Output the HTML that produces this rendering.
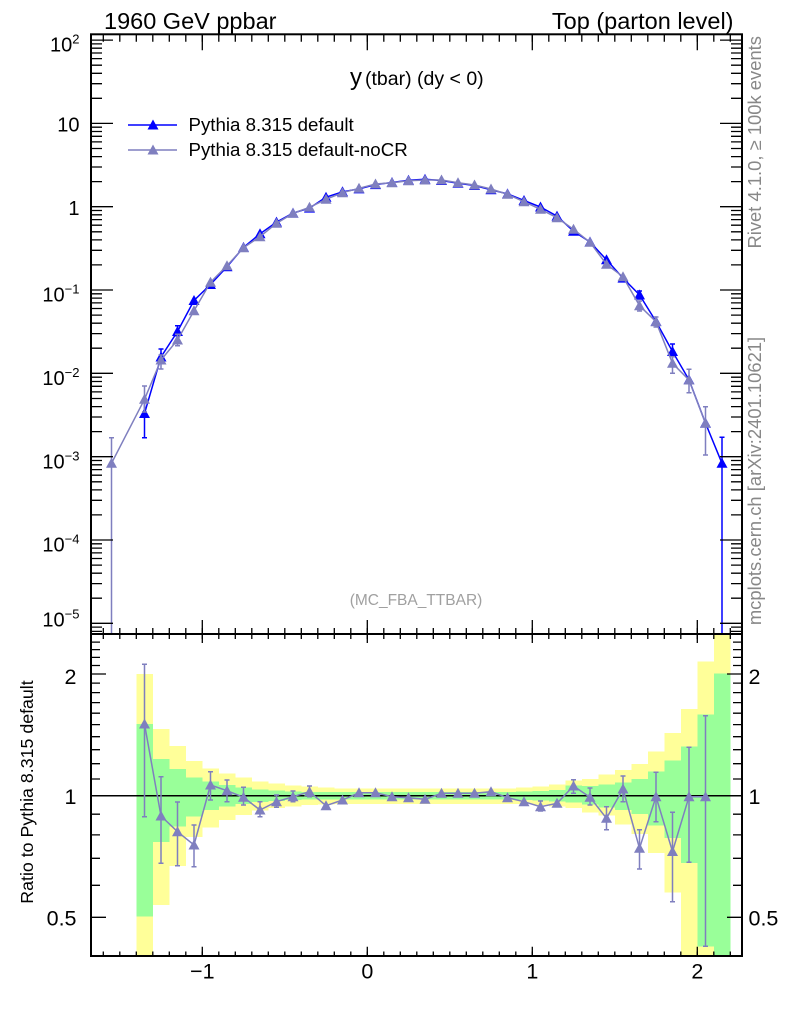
<!DOCTYPE html>
<html><head><meta charset="utf-8"><style>html,body{margin:0;padding:0;background:#fff;}svg{display:block;}</style></head>
<body>
<svg width="786" height="1024" viewBox="0 0 786 1024" font-family="'Liberation Sans', Arial, sans-serif">
<defs>
<path id="t" d="M0,-5.5L5.5,4.5L-5.5,4.5Z"/>
<clipPath id="cm"><rect x="91" y="34.3" width="651" height="599.7"/></clipPath>
<clipPath id="cr"><rect x="91" y="634" width="651" height="322"/></clipPath>
<g id="lmain" stroke="#000" stroke-width="1.3" fill="none">
<path d="M91 40.1h22M91 123.4h22M91 206.7h22M91 290h22M91 373.3h22M91 456.7h22M91 540h22M91 623.3h22"/>
<path d="M91 598.2h11M91 583.6h11M91 573.2h11M91 565.1h11M91 558.5h11M91 552.9h11M91 548.1h11M91 543.8h11M91 514.9h11M91 500.3h11M91 489.9h11M91 481.8h11M91 475.2h11M91 469.6h11M91 464.8h11M91 460.5h11M91 431.6h11M91 417h11M91 406.6h11M91 398.5h11M91 391.9h11M91 386.3h11M91 381.5h11M91 377.2h11M91 348.2h11M91 333.6h11M91 323.2h11M91 315.1h11M91 308.5h11M91 302.9h11M91 298.1h11M91 293.8h11M91 264.9h11M91 250.3h11M91 239.9h11M91 231.8h11M91 225.2h11M91 219.6h11M91 214.8h11M91 210.5h11M91 181.6h11M91 167h11M91 156.6h11M91 148.5h11M91 141.9h11M91 136.3h11M91 131.5h11M91 127.2h11M91 98.3h11M91 83.7h11M91 73.3h11M91 65.2h11M91 58.6h11M91 53h11M91 48.2h11M91 43.9h11M91 631.4h11M91 627.1h11"/>
</g>
<g id="lratio" stroke="#000" stroke-width="1.3" fill="none">
<path d="M91 674h15M91 795.7h15M91 917.3h15"/>
<path d="M91 885.3h9M91 858.3h9M91 834.9h9M91 814.2h9M91 779h9M91 763.7h9M91 749.7h9M91 736.7h9M91 724.6h9M91 713.2h9M91 702.6h9M91 692.6h9M91 683.1h9M91 665.5h9M91 657.4h9M91 649.6h9M91 642.1h9"/>
</g>
</defs>
<rect width="786" height="1024" fill="#fff"/>

<!-- ratio bands -->
<g clip-path="url(#cr)" shape-rendering="crispEdges">
<g fill="#ffff99">
<rect x="136.3" y="674" width="16.7" height="282"/>
<rect x="152.8" y="729" width="16.7" height="176"/>
<rect x="169.3" y="746" width="16.7" height="120"/>
<rect x="185.8" y="761" width="16.7" height="76"/>
<rect x="202.3" y="768.3" width="16.7" height="59.4"/>
<rect x="218.8" y="773.3" width="16.7" height="46.7"/>
<rect x="235.3" y="777.7" width="16.7" height="37.3"/>
<rect x="251.8" y="781.7" width="16.7" height="29"/>
<rect x="268.3" y="783.7" width="16.7" height="24.3"/>
<rect x="284.8" y="785.3" width="16.7" height="21.2"/>
<rect x="301.3" y="786.7" width="16.7" height="18.3"/>
<rect x="317.8" y="787.3" width="16.7" height="17"/>
<rect x="334.3" y="788.3" width="181.7" height="15.7"/>
<rect x="515.8" y="787.5" width="16.7" height="16.5"/>
<rect x="532.3" y="786.5" width="16.7" height="18.5"/>
<rect x="548.8" y="784.5" width="16.7" height="22"/>
<rect x="565.3" y="780.7" width="16.7" height="27.3"/>
<rect x="581.8" y="779" width="16.7" height="33.3"/>
<rect x="598.3" y="774.7" width="16.7" height="41"/>
<rect x="614.8" y="770" width="16.7" height="54.7"/>
<rect x="631.3" y="764" width="16.7" height="70"/>
<rect x="647.8" y="751.7" width="16.7" height="101.3"/>
<rect x="664.3" y="733" width="16.7" height="159.3"/>
<rect x="680.8" y="709" width="16.7" height="247"/>
<rect x="697.3" y="661.3" width="16.7" height="294.7"/>
<rect x="713.8" y="634" width="16.5" height="322"/>
</g>
<g fill="#99ff99">
<rect x="136.3" y="724" width="16.7" height="192.7"/>
<rect x="152.8" y="759" width="16.7" height="83"/>
<rect x="169.3" y="769" width="16.7" height="57.7"/>
<rect x="185.8" y="777.3" width="16.7" height="39.4"/>
<rect x="202.3" y="781.7" width="16.7" height="28.3"/>
<rect x="218.8" y="785" width="16.7" height="21.7"/>
<rect x="235.3" y="787.5" width="16.7" height="16.5"/>
<rect x="251.8" y="789.3" width="16.7" height="12.7"/>
<rect x="268.3" y="790.5" width="16.7" height="10.5"/>
<rect x="284.8" y="791.3" width="16.7" height="8.7"/>
<rect x="301.3" y="791.8" width="16.7" height="7.7"/>
<rect x="317.8" y="791.8" width="16.7" height="7.5"/>
<rect x="334.3" y="791.8" width="181.7" height="7.5"/>
<rect x="515.8" y="791.5" width="16.7" height="8.5"/>
<rect x="532.3" y="791" width="16.7" height="9.5"/>
<rect x="548.8" y="790" width="16.7" height="11.5"/>
<rect x="565.3" y="785.7" width="16.7" height="16.6"/>
<rect x="581.8" y="786" width="16.7" height="18.5"/>
<rect x="598.3" y="784.7" width="16.7" height="22.6"/>
<rect x="614.8" y="782.3" width="16.7" height="27.7"/>
<rect x="631.3" y="779" width="16.7" height="35"/>
<rect x="647.8" y="771.7" width="16.7" height="54"/>
<rect x="664.3" y="760.7" width="16.7" height="77.3"/>
<rect x="680.8" y="746.7" width="16.7" height="116.3"/>
<rect x="697.3" y="714.7" width="16.7" height="231.6"/>
<rect x="713.8" y="673.3" width="16.5" height="282.7"/>
</g>
</g>

<!-- ratio reference line -->
<line x1="91" y1="795.7" x2="742" y2="795.7" stroke="#000" stroke-width="1.5"/>

<!-- ratio noCR -->
<g clip-path="url(#cr)">
<path fill="none" stroke="#7f7fbf" stroke-width="1.5" d="M144.5 664.3V816.7M142 664.3h5M142 816.7h5M161 776.7V863.3M158.5 776.7h5M158.5 863.3h5M177.5 802V865.7M175 802h5M175 865.7h5M194 825V866.7M191.5 825h5M191.5 866.7h5M210.5 771.7V800M208 771.7h5M208 800h5M227 780V801.7M224.5 780h5M224.5 801.7h5M243.5 787.3V805M241 787.3h5M241 805h5M260 801.7V816.7M257.5 801.7h5M257.5 816.7h5M276.5 795V807.3M274 795h5M274 807.3h5M293 791V801.7M290.5 791h5M290.5 801.7h5M309.5 786V796.7M307 786h5M307 796.7h5M540.5 801V811M538 801h5M538 811h5M573.5 779.7V793.3M571 779.7h5M571 793.3h5M590 788V805M587.5 788h5M587.5 805h5M606.5 806.7V829.7M604 806.7h5M604 829.7h5M623 776V801.7M620.5 776h5M620.5 801.7h5M639.5 829.7V869M637 829.7h5M637 869h5M656 772.3V821.7M653.5 772.3h5M653.5 821.7h5M672.5 812.3V901.7M670 812.3h5M670 901.7h5M689 747.3V862.3M686.5 747.3h5M686.5 862.3h5M705.5 715.7V946.3M703 715.7h5M703 946.3h5"/>
<polyline fill="none" stroke="#7f7fbf" stroke-width="1.5" points="144.5,724 161,816 177.5,831.7 194,845 210.5,785 227,790.7 243.5,797.3 260,810 276.5,801.7 293,796.7 309.5,791.7 326,805.7 342.5,800 359,792.7 375.5,792.7 392,796.7 408.5,797.7 425,799.3 441.5,793.3 458,793.3 474.5,793.3 491,791.7 507.5,797.7 524,801.7 540.5,806.7 557,803.3 573.5,786 590,797.3 606.5,818.3 623,789 639.5,848.3 656,796.7 672.5,851.5 689,796.7 705.5,796.7"/>
<g fill="#7f7fbf">
<use href="#t" x="144.5" y="724"/><use href="#t" x="161" y="816"/><use href="#t" x="177.5" y="831.7"/><use href="#t" x="194" y="845"/><use href="#t" x="210.5" y="785"/><use href="#t" x="227" y="790.7"/><use href="#t" x="243.5" y="797.3"/><use href="#t" x="260" y="810"/><use href="#t" x="276.5" y="801.7"/><use href="#t" x="293" y="796.7"/><use href="#t" x="309.5" y="791.7"/><use href="#t" x="326" y="805.7"/><use href="#t" x="342.5" y="800"/><use href="#t" x="359" y="792.7"/><use href="#t" x="375.5" y="792.7"/><use href="#t" x="392" y="796.7"/><use href="#t" x="408.5" y="797.7"/><use href="#t" x="425" y="799.3"/><use href="#t" x="441.5" y="793.3"/><use href="#t" x="458" y="793.3"/><use href="#t" x="474.5" y="793.3"/><use href="#t" x="491" y="791.7"/><use href="#t" x="507.5" y="797.7"/><use href="#t" x="524" y="801.7"/><use href="#t" x="540.5" y="806.7"/><use href="#t" x="557" y="803.3"/><use href="#t" x="573.5" y="786"/><use href="#t" x="590" y="797.3"/><use href="#t" x="606.5" y="818.3"/><use href="#t" x="623" y="789"/><use href="#t" x="639.5" y="848.3"/><use href="#t" x="656" y="796.7"/><use href="#t" x="672.5" y="851.5"/><use href="#t" x="689" y="796.7"/><use href="#t" x="705.5" y="796.7"/>
</g>
</g>

<!-- main plot data -->
<g clip-path="url(#cm)">
<path fill="none" stroke="#0000ff" stroke-width="1.5" d="M144.5 399V437.7M142 399h5M142 437.7h5M161 349V361.7M158.5 349h5M158.5 361.7h5M177.5 325.7V335.7M175 325.7h5M175 335.7h5M639.5 291V299M637 291h5M637 299h5M672.5 344V356.7M670 344h5M670 356.7h5M722 437.3V640M719.5 437.3h5"/>
<polyline fill="none" stroke="#0000ff" stroke-width="1.5" points="144.5,413.5 161,357 177.5,331.5 194,300.5 210.5,284.5 227,266.7 243.5,247.4 260,233.8 276.5,222.1 293,213.1 309.5,208.1 326,197.2 342.5,191.8 359,188.9 375.5,184.6 392,182.5 408.5,180.3 425,179.3 441.5,180.5 458,183.2 474.5,185.5 491,189.8 507.5,193.9 524,200.5 540.5,207 557,216.1 573.5,231.2 590,242 606.5,259.8 623,278.1 639.5,294.9 656,321.5 672.5,351.5 689,379.8 705.5,423.1 722,463.3"/>
<g fill="#0000ff">
<use href="#t" x="144.5" y="413.5"/><use href="#t" x="161" y="357"/><use href="#t" x="177.5" y="331.5"/><use href="#t" x="194" y="300.5"/><use href="#t" x="210.5" y="284.5"/><use href="#t" x="227" y="266.7"/><use href="#t" x="243.5" y="247.4"/><use href="#t" x="260" y="233.8"/><use href="#t" x="276.5" y="222.1"/><use href="#t" x="293" y="213.1"/><use href="#t" x="309.5" y="208.1"/><use href="#t" x="326" y="197.2"/><use href="#t" x="342.5" y="191.8"/><use href="#t" x="359" y="188.9"/><use href="#t" x="375.5" y="184.6"/><use href="#t" x="392" y="182.5"/><use href="#t" x="408.5" y="180.3"/><use href="#t" x="425" y="179.3"/><use href="#t" x="441.5" y="180.5"/><use href="#t" x="458" y="183.2"/><use href="#t" x="474.5" y="185.5"/><use href="#t" x="491" y="189.8"/><use href="#t" x="507.5" y="193.9"/><use href="#t" x="524" y="200.5"/><use href="#t" x="540.5" y="207"/><use href="#t" x="557" y="216.1"/><use href="#t" x="573.5" y="231.2"/><use href="#t" x="590" y="242"/><use href="#t" x="606.5" y="259.8"/><use href="#t" x="623" y="278.1"/><use href="#t" x="639.5" y="294.9"/><use href="#t" x="656" y="321.5"/><use href="#t" x="672.5" y="351.5"/><use href="#t" x="689" y="379.8"/><use href="#t" x="705.5" y="423.1"/><use href="#t" x="722" y="463.3"/>
</g>
<path fill="none" stroke="#7f7fbf" stroke-width="1.5" d="M111.5 437.7V640M109 437.7h5M144.5 386V412M142 386h5M142 412h5M161 355V369M158.5 355h5M158.5 369h5M177.5 334.3V345.7M175 334.3h5M175 345.7h5M639.5 301V311M637 301h5M637 311h5M656 317V327M653.5 317h5M653.5 327h5M672.5 356.7V373.3M670 356.7h5M670 373.3h5M689 369.3V392.7M686.5 369.3h5M686.5 392.7h5M705.5 406.7V455M703 406.7h5M703 455h5"/>
<polyline fill="none" stroke="#7f7fbf" stroke-width="1.5" points="111.5,463.3 144.5,399.3 161,360 177.5,340 194,310.7 210.5,282.3 227,265.7 243.5,247.7 260,236.7 276.5,223.3 293,213.3 309.5,207.3 326,199.3 342.5,192.7 359,188.3 375.5,184 392,182.7 408.5,180.7 425,180 441.5,180 458,182.7 474.5,185 491,189 507.5,194.3 524,201.7 540.5,209.3 557,217.7 573.5,229.3 590,242.3 606.5,264.3 623,276.7 639.5,305.7 656,321.7 672.5,363.3 689,380 705.5,423.3"/>
<g fill="#7f7fbf">
<use href="#t" x="111.5" y="463.3"/><use href="#t" x="144.5" y="399.3"/><use href="#t" x="161" y="360"/><use href="#t" x="177.5" y="340"/><use href="#t" x="194" y="310.7"/><use href="#t" x="210.5" y="282.3"/><use href="#t" x="227" y="265.7"/><use href="#t" x="243.5" y="247.7"/><use href="#t" x="260" y="236.7"/><use href="#t" x="276.5" y="223.3"/><use href="#t" x="293" y="213.3"/><use href="#t" x="309.5" y="207.3"/><use href="#t" x="326" y="199.3"/><use href="#t" x="342.5" y="192.7"/><use href="#t" x="359" y="188.3"/><use href="#t" x="375.5" y="184"/><use href="#t" x="392" y="182.7"/><use href="#t" x="408.5" y="180.7"/><use href="#t" x="425" y="180"/><use href="#t" x="441.5" y="180"/><use href="#t" x="458" y="182.7"/><use href="#t" x="474.5" y="185"/><use href="#t" x="491" y="189"/><use href="#t" x="507.5" y="194.3"/><use href="#t" x="524" y="201.7"/><use href="#t" x="540.5" y="209.3"/><use href="#t" x="557" y="217.7"/><use href="#t" x="573.5" y="229.3"/><use href="#t" x="590" y="242.3"/><use href="#t" x="606.5" y="264.3"/><use href="#t" x="623" y="276.7"/><use href="#t" x="639.5" y="305.7"/><use href="#t" x="656" y="321.7"/><use href="#t" x="672.5" y="363.3"/><use href="#t" x="689" y="380"/><use href="#t" x="705.5" y="423.3"/>
</g>
</g>

<!-- legend -->
<line x1="128" y1="125" x2="177" y2="125" stroke="#0000ff" stroke-width="1.5"/>
<use href="#t" x="153" y="125" fill="#0000ff"/>
<text x="188.5" y="131" font-size="18.7" fill="#000">Pythia 8.315 default</text>
<line x1="128" y1="150" x2="177" y2="150" stroke="#7f7fbf" stroke-width="1.5"/>
<use href="#t" x="153" y="150" fill="#7f7fbf"/>
<text x="188.5" y="156" font-size="18.7" fill="#000">Pythia 8.315 default-noCR</text>

<!-- ticks -->
<use href="#lmain"/>
<use href="#lmain" transform="translate(833,0) scale(-1,1)"/>
<use href="#lratio"/>
<use href="#lratio" transform="translate(833,0) scale(-1,1)"/>
<g stroke="#000" fill="none">
<line x1="102.65" y1="38.05" x2="731" y2="38.05" stroke-width="7.5" stroke-dasharray="1.3 15.2"/>
<line x1="102.65" y1="631" x2="731" y2="631" stroke-width="6" stroke-dasharray="1.3 15.2"/>
<line x1="102.65" y1="636.5" x2="731" y2="636.5" stroke-width="5" stroke-dasharray="1.3 15.2"/>
<line x1="102.65" y1="953.75" x2="731" y2="953.75" stroke-width="4.5" stroke-dasharray="1.3 15.2"/>
<path stroke-width="1.3" d="M202.3 34.3v16M367.3 34.3v16M532.3 34.3v16M697.3 34.3v16M202.3 634v-14M367.3 634v-14M532.3 634v-14M697.3 634v-14M202.3 634v9M367.3 634v9M532.3 634v9M697.3 634v9M202.3 956v-9.3M367.3 956v-9.3M532.3 956v-9.3M697.3 956v-9.3"/>
</g>

<!-- frames -->
<rect x="91" y="34.3" width="651" height="599.7" fill="none" stroke="#000" stroke-width="2"/>
<rect x="91" y="634" width="651" height="322" fill="none" stroke="#000" stroke-width="2"/>

<!-- texts -->
<text x="104" y="29" font-size="23.5" fill="#000">1960 GeV ppbar</text>
<text x="733.5" y="29" font-size="23.5" fill="#000" text-anchor="end">Top (parton level)</text>
<text x="350" y="85" font-size="24" fill="#000">y<tspan x="365" font-size="19.5">(tbar) (dy &lt; 0)</tspan></text>
<text x="416" y="605" text-anchor="middle" font-size="15.5" fill="#a0a0a0">(MC_FBA_TTBAR)</text>

<g font-size="20" fill="#000" text-anchor="end">
<text x="79.5" y="51.7">10<tspan dy="-8" font-size="13">2</tspan></text>
<text x="79.5" y="131.7">10</text>
<text x="79.5" y="215">1</text>
<text x="79.5" y="301.7">10<tspan dy="-8" font-size="13">−1</tspan></text>
<text x="79.5" y="385">10<tspan dy="-8" font-size="13">−2</tspan></text>
<text x="79.5" y="468.3">10<tspan dy="-8" font-size="13">−3</tspan></text>
<text x="79.5" y="551.7">10<tspan dy="-8" font-size="13">−4</tspan></text>
<text x="79.5" y="626.7">10<tspan dy="-8" font-size="13">−5</tspan></text>
</g>

<g font-size="21.5" fill="#000">
<text x="76.5" y="684" text-anchor="end">2</text>
<text x="76.5" y="804" text-anchor="end">1</text>
<text x="76.5" y="925.5" text-anchor="end">0.5</text>
<text x="748.5" y="684">2</text>
<text x="748.5" y="804">1</text>
<text x="748.5" y="925.5">0.5</text>
<text x="202.3" y="978.5" text-anchor="middle">−1</text>
<text x="367.3" y="978.5" text-anchor="middle">0</text>
<text x="532.3" y="978.5" text-anchor="middle">1</text>
<text x="697.3" y="978.5" text-anchor="middle">2</text>
</g>

<text transform="translate(33,792) rotate(-90)" text-anchor="middle" font-size="17.8" fill="#000">Ratio to Pythia 8.315 default</text>
<text transform="translate(761,36) rotate(-90)" text-anchor="end" font-size="18.4" fill="#888">Rivet 4.1.0, ≥ 100k events</text>
<text transform="translate(761,481) rotate(-90)" text-anchor="middle" font-size="18.4" fill="#888">mcplots.cern.ch [arXiv:2401.10621]</text>
</svg>
</body></html>
